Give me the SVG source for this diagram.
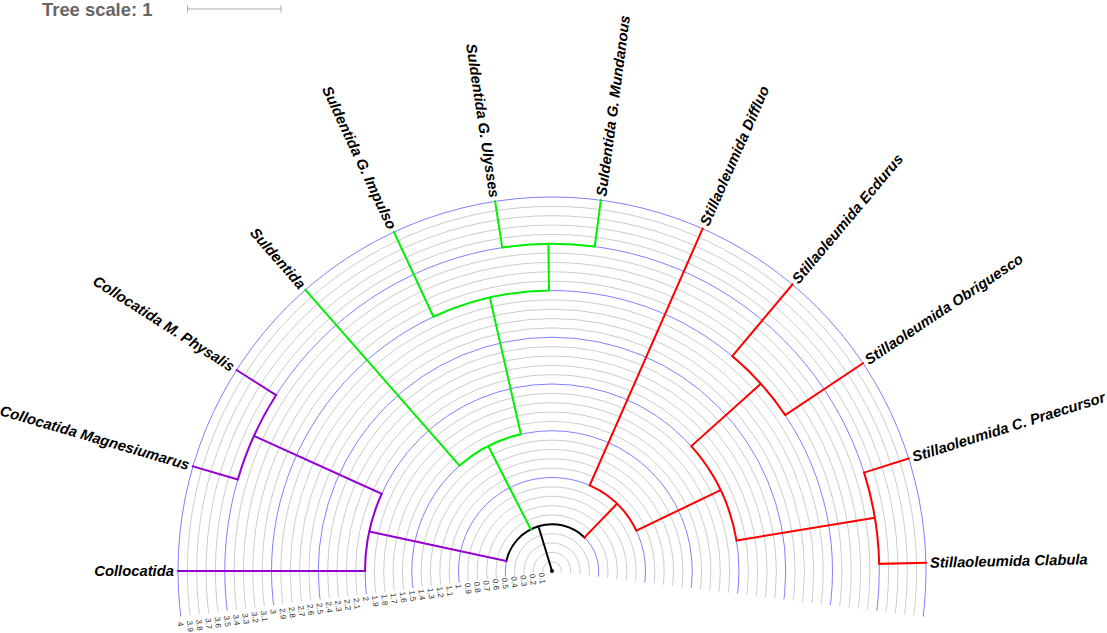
<svg xmlns="http://www.w3.org/2000/svg" width="1107" height="633" viewBox="0 0 1107 633">
<style>
.g{fill:none;stroke:#cccccc;stroke-width:1}
.b{fill:none;stroke:#8080ff;stroke-width:1}
.sl{font-family:"Liberation Sans",Arial,sans-serif;font-size:8px;fill:#333;dominant-baseline:central}
.br{fill:none;stroke-width:2;stroke-linecap:square}
.k{stroke:#000}
.p{stroke:#9400d3}
.gr{stroke:#00f000}
.r{stroke:#ff0000}
.lb{font-family:"Liberation Sans",Arial,sans-serif;font-size:14.8px;font-weight:bold;font-style:italic;fill:#000;dominant-baseline:central}
.e{text-anchor:end}
</style>
<defs>
<clipPath id="wedge"><polygon points="552,571 -441,692.9 -441,-100 1650,-100 1650,705.8"/></clipPath>
</defs>
<rect width="1107" height="633" fill="#fff"/>
<g id="scale">
<text x="42" y="15.5" font-family="Liberation Sans,Arial,sans-serif" font-size="18.4" font-weight="bold" fill="#666">Tree scale: 1</text>
<path d="M187.5 9H281M187.5 5.5V12.5M281 5.5V12.5" stroke="#aaa" stroke-width="1" fill="none"/>
</g>
<g id="grid" clip-path="url(#wedge)">
<circle class="g" cx="552" cy="571" r="9.35"/><circle class="g" cx="552" cy="571" r="18.7"/><circle class="g" cx="552" cy="571" r="28.05"/><circle class="g" cx="552" cy="571" r="37.4"/><circle class="b" cx="552" cy="571" r="46.75"/>
<circle class="g" cx="552" cy="571" r="56.1"/><circle class="g" cx="552" cy="571" r="65.45"/><circle class="g" cx="552" cy="571" r="74.8"/><circle class="g" cx="552" cy="571" r="84.15"/><circle class="b" cx="552" cy="571" r="93.5"/>
<circle class="g" cx="552" cy="571" r="102.85"/><circle class="g" cx="552" cy="571" r="112.2"/><circle class="g" cx="552" cy="571" r="121.55"/><circle class="g" cx="552" cy="571" r="130.9"/><circle class="b" cx="552" cy="571" r="140.25"/>
<circle class="g" cx="552" cy="571" r="149.6"/><circle class="g" cx="552" cy="571" r="158.95"/><circle class="g" cx="552" cy="571" r="168.3"/><circle class="g" cx="552" cy="571" r="177.65"/><circle class="b" cx="552" cy="571" r="187"/>
<circle class="g" cx="552" cy="571" r="196.35"/><circle class="g" cx="552" cy="571" r="205.7"/><circle class="g" cx="552" cy="571" r="215.05"/><circle class="g" cx="552" cy="571" r="224.4"/><circle class="b" cx="552" cy="571" r="233.75"/>
<circle class="g" cx="552" cy="571" r="243.1"/><circle class="g" cx="552" cy="571" r="252.45"/><circle class="g" cx="552" cy="571" r="261.8"/><circle class="g" cx="552" cy="571" r="271.15"/><circle class="b" cx="552" cy="571" r="280.5"/>
<circle class="g" cx="552" cy="571" r="289.85"/><circle class="g" cx="552" cy="571" r="299.2"/><circle class="g" cx="552" cy="571" r="308.55"/><circle class="g" cx="552" cy="571" r="317.9"/><circle class="b" cx="552" cy="571" r="327.25"/>
<circle class="g" cx="552" cy="571" r="336.6"/><circle class="g" cx="552" cy="571" r="345.95"/><circle class="g" cx="552" cy="571" r="355.3"/><circle class="g" cx="552" cy="571" r="364.65"/><circle class="b" cx="552" cy="571" r="374"/>
</g>
<g id="grid-labels">
<text class="sl" x="541.24" y="572.76" transform="rotate(83 541.24 572.76)">0.1</text>
<text class="sl" x="531.97" y="574.02" transform="rotate(83 531.97 574.02)">0.2</text>
<text class="sl" x="522.71" y="575.29" transform="rotate(83 522.71 575.29)">0.3</text>
<text class="sl" x="513.45" y="576.55" transform="rotate(83 513.45 576.55)">0.4</text>
<text class="sl" x="504.18" y="577.81" transform="rotate(83 504.18 577.81)">0.5</text>
<text class="sl" x="494.92" y="579.07" transform="rotate(83 494.92 579.07)">0.6</text>
<text class="sl" x="485.66" y="580.34" transform="rotate(83 485.66 580.34)">0.7</text>
<text class="sl" x="476.40" y="581.60" transform="rotate(83 476.40 581.60)">0.8</text>
<text class="sl" x="467.13" y="582.86" transform="rotate(83 467.13 582.86)">0.9</text>
<text class="sl" x="457.87" y="584.12" transform="rotate(83 457.87 584.12)">1</text>
<text class="sl" x="448.61" y="585.38" transform="rotate(83 448.61 585.38)">1.1</text>
<text class="sl" x="439.34" y="586.65" transform="rotate(83 439.34 586.65)">1.2</text>
<text class="sl" x="430.08" y="587.91" transform="rotate(83 430.08 587.91)">1.3</text>
<text class="sl" x="420.82" y="589.17" transform="rotate(83 420.82 589.17)">1.4</text>
<text class="sl" x="411.56" y="590.43" transform="rotate(83 411.56 590.43)">1.5</text>
<text class="sl" x="402.29" y="591.70" transform="rotate(83 402.29 591.70)">1.6</text>
<text class="sl" x="393.03" y="592.96" transform="rotate(83 393.03 592.96)">1.7</text>
<text class="sl" x="383.77" y="594.22" transform="rotate(83 383.77 594.22)">1.8</text>
<text class="sl" x="374.50" y="595.48" transform="rotate(83 374.50 595.48)">1.9</text>
<text class="sl" x="365.24" y="596.75" transform="rotate(83 365.24 596.75)">2</text>
<text class="sl" x="355.98" y="598.01" transform="rotate(83 355.98 598.01)">2.1</text>
<text class="sl" x="346.71" y="599.27" transform="rotate(83 346.71 599.27)">2.2</text>
<text class="sl" x="337.45" y="600.53" transform="rotate(83 337.45 600.53)">2.3</text>
<text class="sl" x="328.19" y="601.79" transform="rotate(83 328.19 601.79)">2.4</text>
<text class="sl" x="318.93" y="603.06" transform="rotate(83 318.93 603.06)">2.5</text>
<text class="sl" x="309.66" y="604.32" transform="rotate(83 309.66 604.32)">2.6</text>
<text class="sl" x="300.40" y="605.58" transform="rotate(83 300.40 605.58)">2.7</text>
<text class="sl" x="291.14" y="606.84" transform="rotate(83 291.14 606.84)">2.8</text>
<text class="sl" x="281.87" y="608.11" transform="rotate(83 281.87 608.11)">2.9</text>
<text class="sl" x="272.61" y="609.37" transform="rotate(83 272.61 609.37)">3</text>
<text class="sl" x="263.35" y="610.63" transform="rotate(83 263.35 610.63)">3.1</text>
<text class="sl" x="254.08" y="611.89" transform="rotate(83 254.08 611.89)">3.2</text>
<text class="sl" x="244.82" y="613.15" transform="rotate(83 244.82 613.15)">3.3</text>
<text class="sl" x="235.56" y="614.42" transform="rotate(83 235.56 614.42)">3.4</text>
<text class="sl" x="226.30" y="615.68" transform="rotate(83 226.30 615.68)">3.5</text>
<text class="sl" x="217.03" y="616.94" transform="rotate(83 217.03 616.94)">3.6</text>
<text class="sl" x="207.77" y="618.20" transform="rotate(83 207.77 618.20)">3.7</text>
<text class="sl" x="198.51" y="619.47" transform="rotate(83 198.51 619.47)">3.8</text>
<text class="sl" x="189.24" y="620.73" transform="rotate(83 189.24 620.73)">3.9</text>
<text class="sl" x="179.98" y="621.99" transform="rotate(83 179.98 621.99)">4</text>
</g>
<g id="connectors">
<path class="br k" d="M552 571L538.43 526.26M506.30 561.13A46.75 46.75 0 0 1 584.51 537.41"/>
<path class="br p" d="M506.30 561.13L369.21 531.52M365 571A187 187 0 0 1 381.66 493.82M365 571L178 571M381.66 493.82L253.91 435.93M237.82 479.43A327.25 327.25 0 0 1 276.00 395.17M237.82 479.43L192.94 466.34M276.00 395.17L236.57 370.05"/>
<path class="br gr" d="M530.75 529.36L488.26 446.07M459.53 465.56A140.25 140.25 0 0 1 520.90 434.24M459.53 465.56L305.40 289.81M520.90 434.24L489.80 297.48M433.46 316.78A280.5 280.5 0 0 1 548.94 290.52M433.46 316.78L393.94 232.04M548.94 290.52L548.43 243.77M502.22 247.56A327.25 327.25 0 0 1 594.72 246.55M502.22 247.56L495.11 201.35M594.72 246.55L600.82 200.20"/>
<path class="br r" d="M584.51 537.41L617.02 503.81M589.66 485.42A93.5 93.5 0 0 1 636.30 530.56M589.66 485.42L702.63 228.67M636.30 530.56L720.61 490.13M691.24 446.18A187 187 0 0 1 736.51 540.54M691.24 446.18L760.86 383.76M732.30 356.13A280.5 280.5 0 0 1 785.23 415.16M732.30 356.13L792.40 284.50M785.23 415.16L862.97 363.22M736.51 540.54L874.89 517.69M864.11 472.59A327.25 327.25 0 0 1 879.17 563.86M864.11 472.59L908.69 458.53M879.17 563.86L925.91 562.84"/>
<circle cx="552" cy="571" r="2" fill="#000"/>
</g>
<g id="leaf-collocatida"><text class="lb e" x="174" y="571">Collocatida</text></g>
<g id="leaf-magnesiumarus"><text class="lb e" x="189.10" y="465.22" transform="rotate(16.25 189.10 465.22)">Collocatida Magnesiumarus</text></g>
<g id="leaf-physalis"><text class="lb e" x="233.20" y="367.90" transform="rotate(32.5 233.20 367.90)">Collocatida M. Physalis</text></g>
<g id="leaf-suldentida"><text class="lb e" x="302.77" y="286.80" transform="rotate(48.75 302.77 286.80)">Suldentida</text></g>
<g id="leaf-impulso"><text class="lb e" x="392.25" y="228.41" transform="rotate(65 392.25 228.41)">Suldentida G. Impulso</text></g>
<g id="leaf-ulysses"><text class="lb e" x="494.50" y="197.40" transform="rotate(81.25 494.50 197.40)">Suldentida G. Ulysses</text></g>
<g id="leaf-mundanous"><text class="lb" x="601.34" y="196.24" transform="rotate(-82.5 601.34 196.24)">Suldentida G. Mundanous</text></g>
<g id="leaf-diffluo"><text class="lb" x="704.24" y="225.01" transform="rotate(-66.25 704.24 225.01)">Stillaoleumida Diffluo</text></g>
<g id="leaf-ecdurus"><text class="lb" x="794.97" y="281.44" transform="rotate(-50 794.97 281.44)">Stillaoleumida Ecdurus</text></g>
<g id="leaf-obriguesco"><text class="lb" x="866.30" y="360.99" transform="rotate(-33.75 866.30 360.99)">Stillaoleumida Obriguesco</text></g>
<g id="leaf-praecursor"><text class="lb" x="912.51" y="457.33" transform="rotate(-17.5 912.51 457.33)">Stillaoleumida C. Praecursor</text></g>
<g id="leaf-clabula"><text class="lb" x="929.91" y="562.76" transform="rotate(-1.25 929.91 562.76)">Stillaoleumida Clabula</text></g>
</svg>
